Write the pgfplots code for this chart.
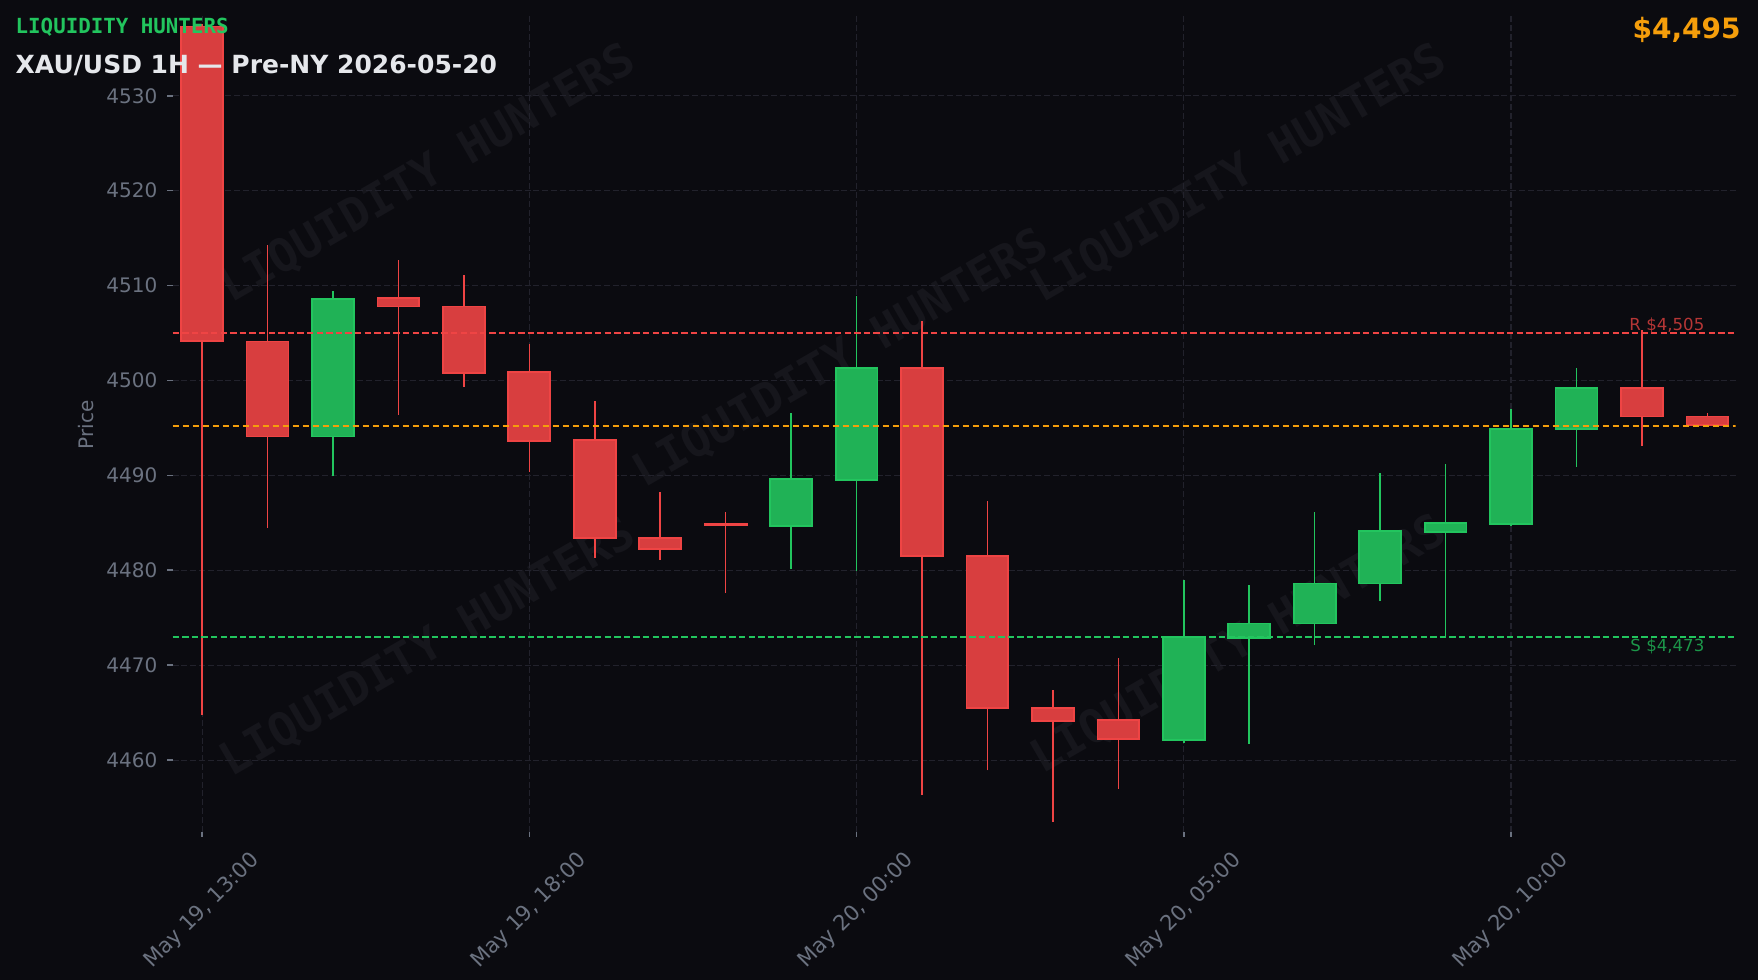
\documentclass[border=0pt]{standalone}
\usepackage{fontspec}
\setmainfont{DejaVu Sans}
\setmonofont{DejaVu Sans Mono}
\usepackage{pgfplots}
\usepackage{pgfplotstable}
\pgfplotsset{compat=1.18}

\definecolor{bg}{HTML}{0B0B10}
\definecolor{gridc}{HTML}{22222C}
\definecolor{tickc}{HTML}{6B7280}
\definecolor{wm}{HTML}{16161C}
\definecolor{dnc}{HTML}{EF4444}
\definecolor{dnfill}{HTML}{D83E3F}
\definecolor{upc}{HTML}{22C55E}
\definecolor{upfill}{HTML}{20B256}
\definecolor{pricec}{HTML}{F59E0B}
\definecolor{titlec}{HTML}{E5E7EB}
\definecolor{rlab}{HTML}{B63636}
\definecolor{slab}{HTML}{1C9649}

% XAU/USD hourly candles: index, open, high, low, close
\pgfplotstableread{
i  o      h      l      c
0  4537.3 4537.6 4464.8 4504.2
1  4504.1 4514.3 4484.5 4494.1
2  4494.1 4509.4 4489.9 4508.6
3  4508.7 4512.7 4496.4 4507.8
4  4507.8 4511.1 4499.3 4500.8
5  4500.9 4503.8 4490.4 4493.6
6  4493.7 4497.8 4481.3 4483.4
7  4483.4 4488.3 4481.1 4482.2
8  4484.9 4486.1 4477.6 4484.8
9  4484.7 4496.6 4480.1 4489.6
10 4489.5 4508.9 4479.9 4501.3
11 4501.3 4506.3 4456.3 4481.5
12 4481.5 4487.3 4458.9 4465.5
13 4465.5 4467.4 4453.5 4464.1
14 4464.2 4470.8 4457.0 4462.2
15 4462.1 4479.0 4461.8 4473.0
16 4472.9 4478.5 4461.7 4474.4
17 4474.4 4486.1 4472.1 4478.6
18 4478.6 4490.3 4476.8 4484.1
19 4484.0 4491.2 4473.0 4485.0
20 4484.9 4497.0 4484.7 4494.9
21 4494.9 4501.3 4490.9 4499.2
22 4499.2 4505.3 4493.1 4496.2
23 4496.2 4496.6 4495.3 4495.3
}\ohlc

\pgfplotsset{
  wickdn/.style={draw=dnc, line width=0.75bp},
  wickup/.style={draw=upc, line width=0.75bp},
  bodydn/.style={fill=dnfill, draw=dnc, line width=0.9bp},
  bodyup/.style={fill=upfill, draw=upc, line width=0.9bp},
}

\begin{document}
\begin{tikzpicture}
\useasboundingbox (0,0) rectangle (879bp,490bp);
\fill[bg] (0,0) rectangle (879bp,490bp);

% faint watermark
\foreach \wx/\wy in {214/403, 420.5/310.5, 619.5/403, 214/166, 619.5/167.5}
  \node[rotate=30, text=wm, inner sep=0pt,
        font=\fontsize{23bp}{26bp}\selectfont\ttfamily\bfseries]
    at (\wx bp,\wy bp) {LIQUIDITY HUNTERS};

\begin{axis}[
  at={(86.25bp,74.15bp)}, anchor=south west,
  scale only axis, width=781.5bp, height=407.85bp,
  xmin=-0.452, xmax=23.43,
  ymin=4452.45, ymax=4538.41,
  xtick={0,5,10,15,20},
  xticklabels={{May 19, 13:00},{May 19, 18:00},{May 20, 00:00},{May 20, 05:00},{May 20, 10:00}},
  ytick={4460,4470,...,4530},
  xtick pos=bottom, ytick pos=left,
  tick align=outside, major tick length=2.6bp,
  tick style={draw=tickc, line width=0.8bp},
  axis line style={draw=none},
  xmajorgrids, ymajorgrids,
  major grid style={draw=gridc, line width=0.55bp, dash pattern=on 3bp off 1.4bp},
  ticklabel style={font=\fontsize{10bp}{12bp}\selectfont, text=tickc},
  yticklabel style={anchor=east, inner sep=0pt, xshift=-4.8bp,
    /pgf/number format/1000 sep={}, /pgf/number format/assume math mode=true},
  xticklabel style={anchor=center, inner sep=0pt, yshift=-37bp, rotate=45,
    font=\fontsize{10.6bp}{12bp}\selectfont},
]

\pgfplotsinvokeforeach{0,...,23}{
  \pgfplotstablegetelem{#1}{o}\of\ohlc \let\vo\pgfplotsretval
  \pgfplotstablegetelem{#1}{h}\of\ohlc \let\vh\pgfplotsretval
  \pgfplotstablegetelem{#1}{l}\of\ohlc \let\vl\pgfplotsretval
  \pgfplotstablegetelem{#1}{c}\of\ohlc \let\vc\pgfplotsretval
  \pgfmathsetmacro\xa{#1-0.32}
  \pgfmathsetmacro\xb{#1+0.32}
  \ifdim\vc pt<\vo pt \def\ccol{dn}\else\def\ccol{up}\fi
  \edef\temp{
    \noexpand\addplot[wick\ccol] coordinates {(#1,\vl) (#1,\vh)};
    \noexpand\addplot[body\ccol] coordinates {(\xa,\vo) (\xb,\vo) (\xb,\vc) (\xa,\vc)} -- cycle;
  }\temp
}

% resistance, last price, support
\addplot[draw=dnc, line width=0.7bp, dash pattern=on 3.2bp off 1.6bp]
  coordinates {(-0.452,4505) (23.43,4505)};
\addplot[draw=pricec, line width=0.9bp, dash pattern=on 3.3bp off 1.7bp]
  coordinates {(-0.452,4495.2) (23.43,4495.2)};
\addplot[draw=upc, line width=1bp, dash pattern=on 3.2bp off 1.6bp]
  coordinates {(-0.452,4473) (23.43,4473)};

\node[anchor=base east, inner sep=0pt, text=rlab, yshift=1.35bp,
      font=\fontsize{8.3bp}{10bp}\selectfont] at (axis cs:22.96,4505) {R \$4,505};
\node[anchor=base east, inner sep=0pt, text=slab, yshift=-7.5bp,
      font=\fontsize{8.3bp}{10bp}\selectfont] at (axis cs:22.96,4473) {S \$4,473};
\end{axis}

\node[rotate=90, inner sep=0pt, text=tickc, font=\fontsize{10bp}{12bp}\selectfont]
  at (43bp,277.65bp) {Price};
\node[anchor=base west, inner sep=0pt, text=upc,
      font=\fontsize{10.4bp}{12bp}\selectfont\ttfamily\bfseries]
  at (7.65bp,473.35bp) {LIQUIDITY HUNTERS};
\node[anchor=base west, inner sep=0pt, text=titlec,
      font=\fontsize{12.5bp}{15bp}\selectfont\bfseries]
  at (7.65bp,453.35bp) {XAU/USD 1H — Pre-NY 2026-05-20};
\node[anchor=base east, inner sep=0pt, text=pricec,
      font=\fontsize{14bp}{16bp}\selectfont\bfseries]
  at (870.5bp,470.85bp) {\$4,495};
\end{tikzpicture}
\end{document}
